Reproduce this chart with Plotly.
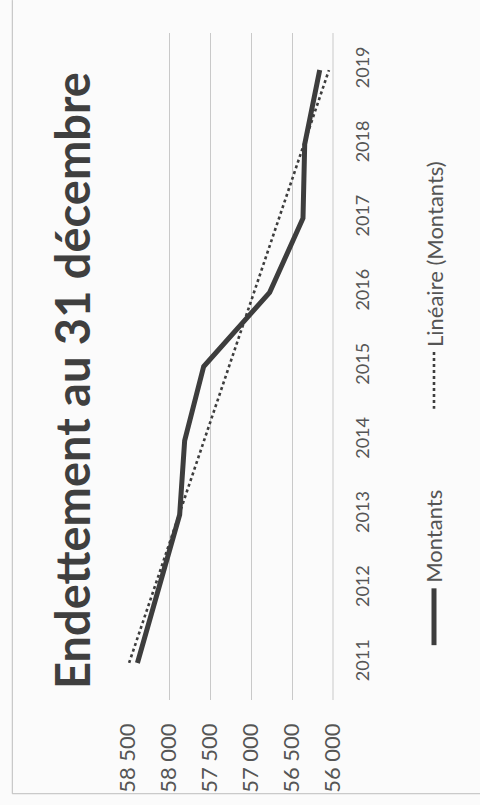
import numpy as np
import plotly.graph_objects as go

# Debt at 31 December (values in thousands)
years = [2011, 2012, 2013, 2014, 2015, 2016, 2017, 2018, 2019]
montants = [58385, 58126, 57870, 57809, 57577, 56772, 56366, 56345, 56162]
value_ticks = [58500, 58000, 57500, 57000, 56500, 56000]
value_tick_labels = ["58 500", "58 000", "57 500", "57 000", "56 500", "56 000"]

# Linear trend line fitted on the series
coef = np.polyfit(years, montants, 1)
tendance = list(np.polyval(coef, years))

W, H = 480, 805
L, R, T, B = 128, 147, 33, 103
PW, PH = W - L - R, H - T - B


def px_x(px):
    return (px - L) / PW


def px_y(py):
    return (H - B - py) / PH


INK = "#3d3d3d"
TEXT = "#555555"
FONT = "Lato"

fig = go.Figure()
fig.add_trace(go.Scatter(
    x=montants, y=years, mode="lines", name="Montants",
    line=dict(color=INK, width=5), showlegend=False,
))
fig.add_trace(go.Scatter(
    x=tendance, y=years, mode="lines", name="Linéaire (Montants)",
    line=dict(color=INK, width=2.6, dash="dot"), showlegend=False,
))

fig.update_layout(
    width=W, height=H,
    margin=dict(l=L, r=R, t=T, b=B, pad=0),
    paper_bgcolor="#fbfbfb", plot_bgcolor="#fbfbfb",
    showlegend=False,
    font=dict(family=FONT, color=TEXT),
)

fig.update_xaxes(
    range=[58500, 56000], tickvals=value_ticks, ticktext=value_tick_labels,
    tickangle=-90, tickfont=dict(size=22, color=TEXT, family=FONT),
    showgrid=True, gridcolor="#c9c9c9", gridwidth=1,
    zeroline=False, showline=False, ticks="", ticklabelstandoff=18,
)
fig.update_yaxes(
    range=[2010.5, 2019.5], tickvals=years, ticktext=[str(y) for y in years],
    side="right", tickangle=-90, tickfont=dict(size=18, color=TEXT, family=FONT),
    showgrid=False, zeroline=False, showline=False, ticks="", ticklabelstandoff=17,
)

shapes = []
# Chart frame (left and bottom edges)
shapes.append(dict(type="line", xref="paper", yref="paper",
                   x0=px_x(12.3), x1=px_x(12.3), y0=px_y(0), y1=px_y(796),
                   line=dict(color="#bdbdbd", width=1)))
shapes.append(dict(type="line", xref="paper", yref="paper",
                   x0=px_x(12.3), x1=px_x(480), y0=px_y(796), y1=px_y(796),
                   line=dict(color="#bdbdbd", width=1)))
# Category axis line at the 56 000 edge
shapes.append(dict(type="line", xref="paper", yref="paper",
                   x0=1, x1=1, y0=0, y1=1,
                   line=dict(color="#c9c9c9", width=1)))
# Legend symbols
LEG_X = 434
shapes.append(dict(type="line", xref="paper", yref="paper",
                   x0=px_x(LEG_X), x1=px_x(LEG_X), y0=px_y(590), y1=px_y(647),
                   line=dict(color=INK, width=5)))
shapes.append(dict(type="line", xref="paper", yref="paper",
                   x0=px_x(LEG_X), x1=px_x(LEG_X), y0=px_y(353), y1=px_y(410),
                   line=dict(color=INK, width=2.6, dash="dot")))
fig.update_layout(shapes=shapes)

annotations = [
    dict(text="<b>Endettement au 31 décembre</b>", textangle=-90,
         xref="paper", yref="paper", x=px_x(72), y=px_y(382),
         xanchor="center", yanchor="middle", showarrow=False,
         font=dict(size=47, color="#3f3f3f", family=FONT)),
    dict(text="Montants", textangle=-90,
         xref="paper", yref="paper", x=px_x(LEG_X), y=px_y(587),
         xanchor="center", yanchor="bottom", showarrow=False,
         font=dict(size=22, color=TEXT, family=FONT)),
    dict(text="Linéaire (Montants)", textangle=-90,
         xref="paper", yref="paper", x=px_x(LEG_X), y=px_y(350),
         xanchor="center", yanchor="bottom", showarrow=False,
         font=dict(size=22, color=TEXT, family=FONT)),
]
fig.update_layout(annotations=annotations)

fig.write_html("out.html")
